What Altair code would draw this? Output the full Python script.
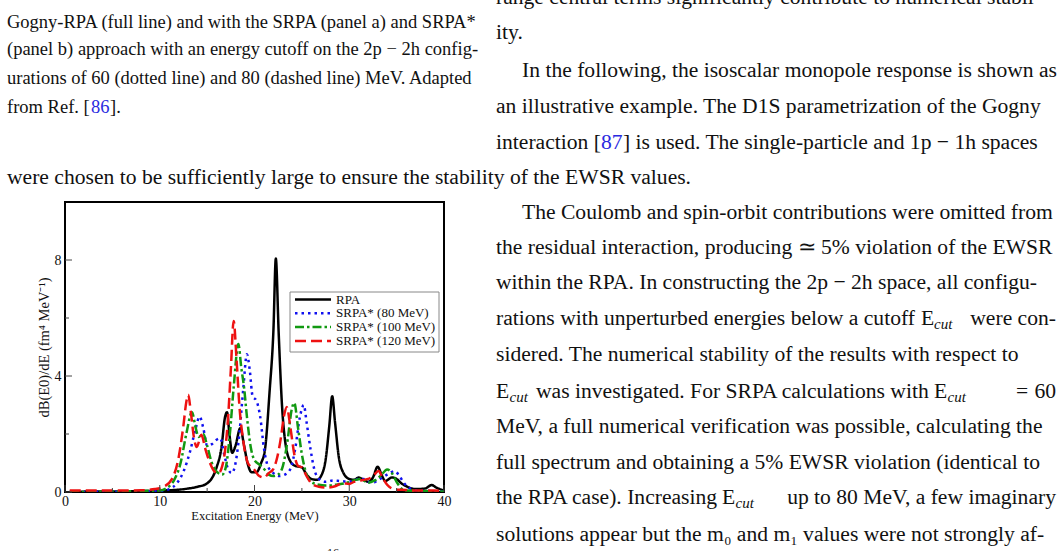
import altair as alt
import pandas as pd

# ---------------- data ----------------
series_names = ["RPA", "SRPA* (80 MeV)", "SRPA* (100 MeV)", "SRPA* (120 MeV)"]

rpa_E = [0.5, 5, 8, 10, 12, 13, 14, 15, 16, 16.5, 16.9, 17.1, 17.35, 17.65, 18.0, 18.5, 18.9, 19.3, 19.7,
         20.2, 20.7, 21.1, 21.6, 22.0, 22.25, 22.55, 22.9, 23.3, 23.8, 24.3, 25.0, 25.5, 26.0, 26.6, 27.1,
         27.5, 27.9, 28.2, 28.5, 28.9, 29.4, 30.0, 30.5, 31.0, 31.5, 32.0, 32.5, 33.0, 33.4, 33.8, 34.5,
         35.0, 35.5, 36.0, 37.0, 38.0, 38.7, 39.2, 40.0]
rpa_v = [0.01, 0.02, 0.03, 0.05, 0.08, 0.12, 0.18, 0.3, 0.85, 1.5, 2.6, 2.75, 2.0, 1.35, 1.6, 2.2, 1.6, 0.95, 0.68,
         0.68, 1.0, 1.45, 3.5, 5.6, 8.05, 5.5, 3.0, 1.6, 1.05, 0.9, 0.85, 0.6, 0.45, 0.42, 0.6,
         1.1, 2.3, 3.3, 2.4, 1.2, 0.65, 0.45, 0.42, 0.5, 0.42, 0.35, 0.5, 0.87, 0.6, 0.38, 0.5,
         0.45, 0.3, 0.2, 0.1, 0.12, 0.24, 0.15, 0.05]

s80_E = [0.5, 10, 11, 11.8, 12.5, 13.2, 13.8, 14.2, 14.6, 15.0, 15.5, 16.0, 16.4, 16.8, 17.2, 17.6, 18.0,
         18.4, 18.8, 19.2, 19.5, 19.8, 20.2, 20.6, 21.0, 21.4, 22.0, 22.6, 23.2, 23.8, 24.3, 24.8, 25.2,
         25.5, 25.9, 26.3, 26.8, 27.5, 28.3, 29.0, 30.0, 31.0, 31.5, 32.0, 32.5, 33.0, 33.5, 34.0, 34.8,
         35.3, 35.8, 36.3, 37.0, 38.0, 40.0]
s80_v = [0.0, 0.03, 0.1, 0.3, 0.7, 1.4, 2.2, 2.6, 2.2, 1.6, 1.65, 1.8, 1.85, 1.3, 0.8, 0.65, 1.0,
         2.0, 3.5, 4.75, 4.2, 3.3, 3.15, 2.6, 1.5, 0.9, 0.65, 0.55, 0.6, 0.8, 1.5, 2.6, 3.0,
         2.4, 1.5, 0.8, 0.45, 0.35, 0.4, 0.38, 0.35, 0.45, 0.45, 0.35, 0.32, 0.4, 0.5, 0.6, 0.72,
         0.55, 0.3, 0.15, 0.06, 0.04, 0.02]

s100_E = [0.5, 10, 10.8, 11.5, 12.2, 12.8, 13.4, 13.8, 14.1, 14.6, 15.0, 15.5, 16.0, 16.6, 17.0, 17.4,
          17.8, 18.3, 18.6, 18.9, 19.2, 19.6, 20.0, 20.6, 21.1, 21.5, 22.0, 22.5, 23.0, 23.5, 23.9, 24.2,
          24.6, 25.0, 25.5, 26.0, 26.8, 27.5, 28.5, 29.5, 30.5, 31.2, 32.0, 32.7, 33.3, 34.0, 34.5, 35.0,
          35.5, 36.0, 40.0]
s100_v = [0.0, 0.05, 0.15, 0.4, 1.0, 2.0, 2.75, 2.2, 1.9, 2.0, 1.6, 1.0, 0.7, 0.6, 0.9, 2.0,
          3.6, 5.1, 4.3, 3.6, 2.6, 1.55, 1.1, 0.93, 0.76, 0.6, 0.55, 0.6, 0.9, 1.8, 2.8, 3.07,
          2.2, 1.3, 0.6, 0.35, 0.25, 0.22, 0.25, 0.3, 0.4, 0.45, 0.32, 0.4, 0.55, 0.78, 0.65, 0.35,
          0.12, 0.05, 0.02]

s120_E = [0.5, 5, 8, 9.5, 10.5, 11.3, 12.0, 12.5, 12.8, 13.0, 13.3, 13.6, 13.9, 14.4, 14.8, 15.3, 15.8,
          16.2, 16.6, 16.9, 17.2, 17.5, 17.8, 18.1, 18.4, 18.8, 19.3, 19.9, 20.5, 21.0, 21.5, 22.0, 22.4,
          22.8, 23.1, 23.4, 23.8, 24.2, 24.6, 25.0, 25.5, 26.0, 26.8, 27.5, 28.5, 29.3, 30.0, 30.5, 31.2,
          32.0, 32.5, 33.1, 33.5, 34.0, 34.5, 35.0, 36.0, 37.0, 38.0, 39.0, 40.0]
s120_v = [0.05, 0.05, 0.06, 0.1, 0.2, 0.45, 1.2, 2.3, 3.1, 3.35, 2.7, 1.9, 1.55, 1.97, 1.5, 1.0, 0.7,
          0.65, 0.9, 1.45, 2.5, 4.2, 5.9, 4.6, 3.0, 1.8, 1.0, 0.8, 0.55, 0.5, 0.65, 0.8, 1.2,
          1.9, 2.6, 2.93, 2.2, 1.3, 0.9, 0.85, 0.55, 0.3, 0.18, 0.15, 0.2, 0.3, 0.28, 0.35, 0.4,
          0.45, 0.55, 0.72, 0.5, 0.25, 0.12, 0.08, 0.07, 0.05, 0.05, 0.05, 0.02]

x_major = [0, 10, 20, 30, 40]
x_minor = [5, 15, 25, 35]
y_major = [0, 4, 8]
y_minor = [2, 6]

frames = []
for name, E, v in zip(series_names, [rpa_E, s80_E, s100_E, s120_E], [rpa_v, s80_v, s100_v, s120_v]):
    frames.append(pd.DataFrame({"E": E, "v": v, "series": name}))
df = pd.concat(frames, ignore_index=True)

# ---------------- layout ----------------
PL, PT = 65, 202          # plot area origin on the page
W, H = 379, 290           # plot area size
PAGE_W, PAGE_H = 1062, 551
SERIF = "Liberation Serif"
TXT = "#111111"
LINK = "#2a2ae0"
FS = 21.6                 # body text size
CS = 18.5                 # caption text size
SUB = 15                  # subscript size

colors = ["#000000", "#1010f0", "#119911", "#ee1111"]
dashes = [[1, 0], [2.5, 4], [9, 3, 2.5, 3], [11, 5]]

lines = alt.Chart(df).mark_line(strokeWidth=2.5, interpolate="monotone", clip=True).encode(
    x=alt.X("E:Q", scale=alt.Scale(domain=[0, 40], nice=False, zero=False),
            axis=alt.Axis(values=x_major, title="Excitation Energy (MeV)", grid=False, ticks=False,
                          domain=False, labelFont=SERIF, labelFontSize=14, labelColor=TXT,
                          labelPadding=2, labelFlush=False, titleFont=SERIF, titleFontSize=12.5,
                          titleFontWeight="normal", titleColor=TXT, titlePadding=1)),
    y=alt.Y("v:Q", scale=alt.Scale(domain=[0, 10], nice=False),
            axis=alt.Axis(values=y_major, title="dB(E0)/dE (fm⁴ MeV⁻¹)", grid=False, ticks=False,
                          domain=False, labelFont=SERIF, labelFontSize=14, labelColor=TXT,
                          labelPadding=4, labelFlush=False, titleFont=SERIF, titleFontSize=14.5,
                          titleFontWeight="normal", titleColor=TXT, titlePadding=3)),
    color=alt.Color("series:N", scale=alt.Scale(domain=series_names, range=colors), legend=None),
    strokeDash=alt.StrokeDash("series:N", scale=alt.Scale(domain=series_names, range=dashes), legend=None),
)

def xticks(vals, length):
    return alt.Chart(pd.DataFrame({"E": vals})).mark_rule(color="#444444", strokeWidth=1).encode(
        x="E:Q", y=alt.value(H), y2=alt.value(H - length))

def yticks(vals, length):
    return alt.Chart(pd.DataFrame({"v": vals})).mark_rule(color="#444444", strokeWidth=1).encode(
        y="v:Q", x=alt.value(0), x2=alt.value(length))

ONE = alt.Data(values=[{}])

def txt(s, x, y, size=FS, color=TXT, align="left", style="normal"):
    return alt.Chart(ONE).mark_text(
        text=s, align=align, baseline="middle", font=SERIF, fontSize=size, color=color,
        fontStyle=style
    ).encode(x=alt.value(x - PL), y=alt.value(y - PT))

# legend drawn by hand (box at page x 290-439, y 292-352)
legend_box = alt.Chart(ONE).mark_rect(fill="white", stroke="#888888", strokeWidth=1).encode(
    x=alt.value(290 - PL), x2=alt.value(439 - PL), y=alt.value(292 - PT), y2=alt.value(352 - PT))
legend_parts = [legend_box]
for i, (name, col, dash) in enumerate(zip(series_names, colors, dashes)):
    yy = 299.5 + 13.8 * i
    legend_parts.append(
        alt.Chart(ONE).mark_rule(color=col, strokeWidth=2.5, strokeDash=dash).encode(
            x=alt.value(295 - PL), x2=alt.value(331 - PL), y=alt.value(yy - PT)))
    legend_parts.append(txt(name, 336, yy, 13))

texts = [
    # caption (left column)
    txt("Gogny-RPA (full line) and with the SRPA (panel a) and SRPA*", 7, 22, CS),
    txt("(panel b) approach with an energy cutoff on the 2p − 2h config-", 7, 49, CS),
    txt("urations of 60 (dotted line) and 80 (dashed line) MeV. Adapted", 7, 78, CS),
    txt("from Ref. [", 7, 107, CS), txt("86", 91, 107, CS, LINK), txt("].", 110, 107, CS),
    # right column, top
    txt("range central terms significantly contribute to numerical stabil-", 496, -2),
    txt("ity.", 496, 33),
    txt("In the following, the isoscalar monopole response is shown as", 522, 71),
    txt("an illustrative example. The D1S parametrization of the Gogny", 496, 107),
    txt("interaction [", 496, 143), txt("87", 601, 143, FS, LINK),
    txt("] is used.  The single-particle and 1p − 1h spaces", 623, 143),
    txt("were chosen to be sufficiently large to ensure the stability of the EWSR values.", 7, 178),
    # right column, beside the figure
    txt("The Coulomb and spin-orbit contributions were omitted from", 522, 213),
    txt("the residual interaction, producing ≃ 5% violation of the EWSR", 496, 248),
    txt("within the RPA. In constructing the 2p − 2h space, all configu-", 496, 283),
    txt("rations with unperturbed energies below a cutoff", 496, 319),
    txt("E", 921, 319), txt("cut", 934, 324, SUB, TXT, style="italic"),
    txt("were con-", 1056, 319, align="right"),
    txt("sidered.  The numerical stability of the results with respect to", 496, 355),
    txt("E", 496, 392), txt("cut", 509.5, 397, SUB, TXT, style="italic"),
    txt("was investigated.  For SRPA calculations with", 536, 392),
    txt("E", 934, 392), txt("cut", 947.5, 397, SUB, TXT, style="italic"),
    txt("=", 1016, 392), txt("60", 1056, 392, align="right"),
    txt("MeV, a full numerical verification was possible, calculating the", 496, 427),
    txt("full spectrum and obtaining a 5% EWSR violation (identical to", 496, 463),
    txt("the RPA case). Increasing", 496, 498),
    txt("E", 722, 498), txt("cut", 735.5, 503, SUB, TXT, style="italic"),
    txt("up to 80 MeV, a few imaginary", 1056, 498, align="right"),
    txt("solutions appear but the m₀ and m₁ values were not strongly af-", 496, 535),
    txt("16", 333, 553, 12, align="center"),
]

chart = alt.layer(
    lines,
    xticks(x_major, 7), xticks(x_minor, 4),
    yticks(y_major, 7), yticks(y_minor, 4),
    *legend_parts,
    *texts,
).properties(
    width=W, height=H,
    autosize="none",
    padding={"left": PL, "top": PT, "right": PAGE_W - PL - W, "bottom": PAGE_H - PT - H},
    background="white",
).configure_view(
    stroke="black", strokeWidth=2
)

chart.save("out.html", embed_options={"renderer": "svg", "actions": False})
